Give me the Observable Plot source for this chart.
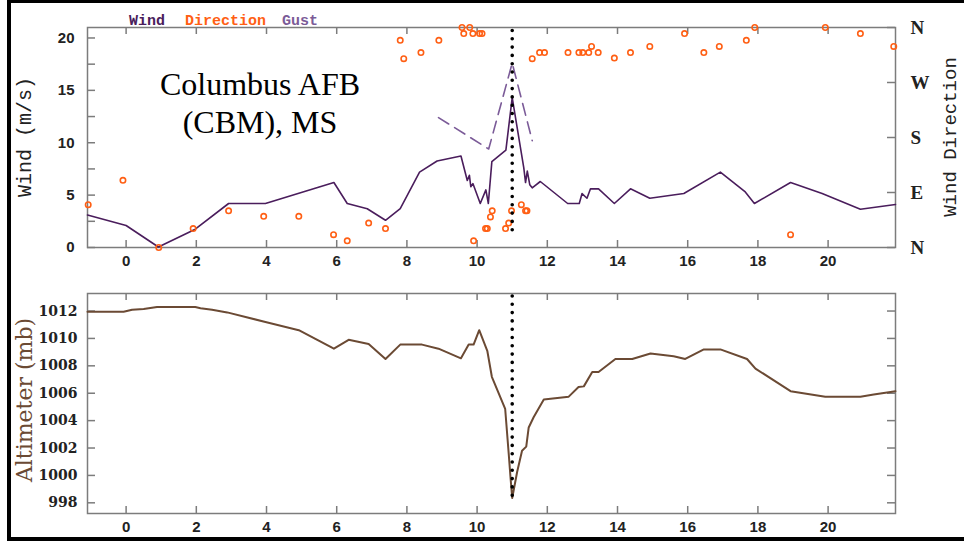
<!DOCTYPE html>
<html><head><meta charset="utf-8">
<script src="https://cdn.jsdelivr.net/npm/d3@7"></script>
<script src="https://cdn.jsdelivr.net/npm/@observablehq/plot@0.6"></script>
<style>
html,body{margin:0;padding:0;background:#fff;}
#wrap{position:relative;width:964px;height:541px;overflow:hidden;background:#fff;}
#wrap > svg{position:absolute;left:0;}
</style></head><body><div id="wrap"></div>
<script>
// ---- data (hours since midnight) ----
const windHour  = [-1.1, 0.0, 0.92, 1.97, 2.92, 3.97, 5.92, 6.3, 6.87, 7.39, 7.81, 8.36, 8.86, 9.54, 9.72, 9.78, 9.82, 9.88, 10.09, 10.25, 10.32, 10.42, 10.82, 11.0, 11.33, 11.38, 11.43, 11.5, 11.57, 11.8, 12.58, 12.91, 12.99, 13.13, 13.23, 13.46, 13.91, 14.37, 14.92, 15.89, 16.93, 17.64, 17.9, 18.93, 19.83, 20.92, 21.92];
const windSpeed = [3.1, 2.1, 0.05, 1.75, 4.2, 4.2, 6.2, 4.2, 3.7, 2.6, 3.7, 7.2, 8.26, 8.74, 6.4, 6.9, 5.8, 6.1, 4.2, 5.5, 4.2, 8.2, 9.3, 14.3, 7.6, 6.2, 7.3, 6.0, 5.7, 6.3, 4.2, 4.2, 5.15, 4.7, 5.6, 5.6, 4.2, 5.6, 4.7, 5.15, 7.2, 5.3, 4.2, 6.2, 5.15, 3.65, 4.1];

const gustHour  = [8.9, 10.33, 11.0, 11.57];
const gustSpeed = [12.4, 9.4, 17.6, 10.2];

const dirHour = [-1.08, -0.09, 0.93, 1.91, 2.92, 3.92, 4.92, 5.91, 6.3, 6.91, 7.39, 7.81, 7.91, 8.4, 8.91, 9.57, 9.62, 9.79, 9.88, 9.9, 10.07, 10.14, 10.24, 10.29, 10.38, 10.43, 10.81, 10.9, 10.98, 11.26, 11.38, 11.42, 11.57, 11.78, 11.92, 12.59, 12.9, 13.01, 13.18, 13.26, 13.45, 13.91, 14.37, 14.92, 15.91, 16.46, 16.9, 17.67, 17.91, 18.93, 19.92, 20.92, 21.87];
const dirDeg  = [70, 110, 0, 31, 60, 51, 51, 21, 11, 40, 31, 339, 309, 319, 339, 360, 350, 360, 350, 11, 350, 350, 31, 31, 50, 60, 31, 40, 60, 70, 60, 60, 309, 319, 319, 319, 319, 319, 319, 329, 319, 310, 319, 329, 350, 319, 329, 339, 360, 21, 360, 350, 329];

const altHour = [-1.1, -0.07, 0.17, 0.5, 0.88, 1.97, 2.12, 2.45, 2.88, 3.97, 4.92, 5.92, 6.34, 6.91, 7.39, 7.81, 8.43, 8.9, 9.54, 9.76, 9.9, 10.06, 10.29, 10.42, 10.8, 10.9, 10.95, 11.0, 11.14, 11.28, 11.4, 11.47, 11.61, 11.9, 12.61, 12.89, 13.04, 13.28, 13.46, 13.94, 14.42, 14.94, 15.6, 15.93, 16.46, 16.93, 17.69, 17.93, 18.93, 19.92, 20.92, 21.3, 21.92];
const altMb   = [1011.95, 1011.95, 1012.1, 1012.15, 1012.3, 1012.3, 1012.2, 1012.1, 1011.9, 1011.2, 1010.6, 1009.25, 1009.9, 1009.6, 1008.5, 1009.55, 1009.55, 1009.25, 1008.55, 1009.55, 1009.55, 1010.6, 1009.1, 1007.2, 1004.85, 1001.6, 999.9, 998.35, 1000.25, 1001.8, 1002.1, 1003.5, 1004.25, 1005.55, 1005.75, 1006.45, 1006.5, 1007.55, 1007.55, 1008.5, 1008.5, 1008.9, 1008.7, 1008.5, 1009.2, 1009.2, 1008.5, 1007.8, 1006.15, 1005.75, 1005.75, 1005.9, 1006.15];

const eventHour = [11];
const hourTicks = [0, 2, 4, 6, 8, 10, 12, 14, 16, 18, 20];
const windTicks = [0, 2.5, 5, 7.5, 10, 12.5, 15, 17.5, 20];
const windLabelTicks = [0, 5, 10, 15, 20];
const dirTickDeg = [0, 90, 180, 270, 360];
const dirLabels = ["N", "E", "S", "W", "N"];
const altTicks = [998, 1000, 1002, 1004, 1006, 1008, 1010, 1012];
const legendItems = ["Wind", "Direction", "Gust"];
const titleLines = ["Columbus AFB", "(CBM), MS"];
const axisTitles = ["Wind (m/s)", "Wind Direction", "Altimeter (mb)"];

// ---- derived tables ----
const wind = windHour.map((h, i) => ({h, v: windSpeed[i]}));
const gust = gustHour.map((h, i) => ({h, v: gustSpeed[i]}));
const dir = dirHour.map((h, i) => ({h, d: dirDeg[i]}));
const alt = altHour.map((h, i) => ({h, p: altMb[i]}));
const WMAX = 21;
const dirToWind = d => d * WMAX / 360;
const dirTickPos = dirTickDeg.map(dirToWind);

const W = 964;
const xDomain = [-1.1, 21.92];
const gray = "#7c7c7c";
const cWind = "#4a1d5c", cDir = "#ff5f14", cGust = "#7b5b98", cAlt = "#6b4a34";

const wrap = document.getElementById("wrap");

const topPlot = Plot.plot({
  width: W, height: 270,
  marginLeft: 87, marginRight: 69, marginTop: 27, marginBottom: 23,
  x: {domain: xDomain},
  y: {domain: [0, WMAX]},
  style: {background: "transparent", overflow: "visible", color: "#222"},
  marks: [
    Plot.frame({stroke: gray, strokeWidth: 1.5}),
    Plot.ruleX(hourTicks, {stroke: gray, strokeWidth: 1.5, insetBottom: 213}),
    Plot.ruleX(hourTicks, {stroke: gray, strokeWidth: 1.5, insetTop: 213}),
    Plot.ruleY(windTicks, {stroke: gray, strokeWidth: 1.5, insetRight: 800}),
    Plot.ruleY(dirTickPos, {stroke: gray, strokeWidth: 1.5, insetLeft: 800}),
    Plot.axisX({ticks: hourTicks, tickSize: 0, tickPadding: 8, label: null, tickFormat: d => String(d), fontSize: 15, fontWeight: "bold", fontFamily: "Liberation Sans", fill: "#222"}),
    Plot.axisY({ticks: windLabelTicks, tickSize: 0, tickPadding: 13, label: null, tickFormat: d => String(d), fontSize: 15, fontWeight: "bold", fontFamily: "Liberation Sans", fill: "#222"}),
    Plot.axisY({anchor: "right", ticks: dirTickPos, tickSize: 0, tickPadding: 15, label: null,
      tickFormat: d => dirLabels[dirTickPos.indexOf(d)], fontSize: 19, fontWeight: "bold", fontFamily: "Liberation Serif", fill: "#222"}),
    Plot.line(gust, {x: "h", y: "v", stroke: cGust, strokeWidth: 1.6, strokeDasharray: "12 7"}),
    Plot.line(wind, {x: "h", y: "v", stroke: cWind, strokeWidth: 1.6}),
    Plot.dot(dir, {x: "h", y: d => dirToWind(d.d), r: 2.7, stroke: cDir, strokeWidth: 1.6, fill: "none"}),
    Plot.ruleX(eventHour, {stroke: "#000", strokeWidth: 3.6, strokeLinecap: "round", strokeDasharray: "0 8.3", insetTop: 3.5, insetBottom: 10})
  ]
});
topPlot.style.top = "0px";
wrap.appendChild(topPlot);

const botPlot = Plot.plot({
  width: W, height: 271,
  marginLeft: 87, marginRight: 69, marginTop: 23, marginBottom: 28,
  x: {domain: xDomain},
  y: {domain: [997.22, 1013.28]},
  style: {background: "transparent", overflow: "visible", color: "#222"},
  marks: [
    Plot.frame({stroke: gray, strokeWidth: 1.5}),
    Plot.ruleX(hourTicks, {stroke: gray, strokeWidth: 1.5, insetBottom: 213}),
    Plot.ruleX(hourTicks, {stroke: gray, strokeWidth: 1.5, insetTop: 213}),
    Plot.ruleY(altTicks, {stroke: gray, strokeWidth: 1.5, insetRight: 800}),
    Plot.ruleY(altTicks, {stroke: gray, strokeWidth: 1.5, insetLeft: 800}),
    Plot.axisX({ticks: hourTicks, tickSize: 0, tickPadding: 8, label: null, tickFormat: d => String(d), fontSize: 15, fontWeight: "bold", fontFamily: "Liberation Sans", fill: "#222"}),
    Plot.axisY({ticks: altTicks, tickSize: 0, tickPadding: 10, label: null, tickFormat: d => String(d), fontSize: 14, fontWeight: "bold", fontFamily: "DejaVu Serif", fill: "#222"}),
    Plot.line(alt, {x: "h", y: "p", stroke: cAlt, strokeWidth: 2}),
    Plot.ruleX(eventHour, {stroke: "#000", strokeWidth: 3.6, strokeLinecap: "round", strokeDasharray: "0 8.3", insetTop: 3, insetBottom: 10})
  ]
});
botPlot.style.top = "270px";
wrap.appendChild(botPlot);

// ---- overlay: border, legend, titles ----
const ov = d3.select(wrap).append("svg")
  .attr("width", W).attr("height", 541)
  .style("top", "0px").style("pointer-events", "none");
ov.append("rect").attr("x", 7).attr("y", 0).attr("width", 4).attr("height", 541).attr("fill", "#000");
ov.append("rect").attr("x", 7).attr("y", 0).attr("width", W - 7).attr("height", 3).attr("fill", "#000");
ov.append("rect").attr("x", 7).attr("y", 537).attr("width", W - 7).attr("height", 4).attr("fill", "#000");

const legX = [129, 185, 282];
const legC = [cWind, cDir, cGust];
legendItems.forEach((t, i) => {
  ov.append("text").attr("x", legX[i]).attr("y", 25)
    .attr("font-family", "Liberation Mono").attr("font-weight", "bold").attr("font-size", 15)
    .attr("fill", legC[i]).text(t);
});
titleLines.forEach((t, i) => {
  ov.append("text").attr("x", 260).attr("y", 95 + i * 38).attr("text-anchor", "middle")
    .attr("font-family", "Liberation Serif").attr("font-size", 32).attr("fill", "#000").text(t);
});
const axT = [
  {t: axisTitles[0], x: 25, y: 137, c: "#222", f: "Liberation Mono", s: 20},
  {t: axisTitles[1], x: 951, y: 137, c: "#222", f: "Liberation Mono", s: 19},
  {t: axisTitles[2], x: 24, y: 400, c: cAlt, f: "DejaVu Serif", s: 22}
];
axT.forEach(a => {
  ov.append("text").attr("transform", `translate(${a.x},${a.y}) rotate(-90)`)
    .attr("text-anchor", "middle").attr("dominant-baseline", "central")
    .attr("font-family", a.f).attr("font-size", a.s).attr("fill", a.c).text(a.t);
});
</script></body></html>
